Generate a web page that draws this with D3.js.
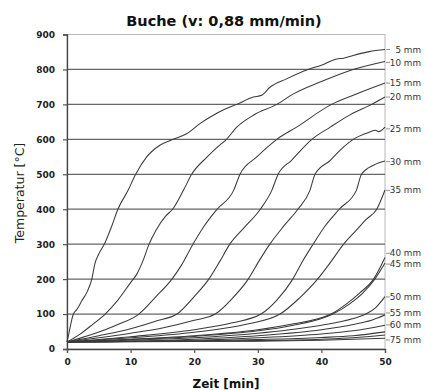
<!DOCTYPE html>
<html>
<head>
<meta charset="utf-8">
<script src="https://cdn.jsdelivr.net/npm/d3@7"></script>
<style>
  html, body { margin: 0; padding: 0; background: #fff; }
  svg { display: block; }
</style>
</head>
<body>
<svg id="chart" width="425" height="390"></svg>
<script>
// ---- data (time [min], temperature [°C]) ----
const title = "Buche (v: 0,88 mm/min)";
const xTicks = [0, 10, 20, 30, 40, 50];
const yTicks = [0, 100, 200, 300, 400, 500, 600, 700, 800, 900];

const s5  = [[0,20],[0.3,45],[0.7,80],[1,100],[1.5,112],[2.4,140],[3.2,165],[3.9,200],[4.4,245],[5,272],[6,305],[7,350],[8,400],[9.6,454],[10.8,500],[12.5,549],[14.6,583],[16.7,600],[18.8,616],[20.9,645],[23,669],[24.8,686],[26.7,700],[29.3,721],[30.6,726],[31.9,749],[34.5,773],[37.9,800],[40,812],[42.4,830],[43.5,832],[45,840],[47.5,851],[50,857]];
const s10 = [[0,20],[2,42],[4,70],[6,100],[8,140],[10,190],[11,215],[12,255],[12.9,300],[14,340],[15.5,380],[16.6,400],[18.3,454],[19.6,500],[22,549],[24.1,585],[24.8,595],[26.7,635],[29.3,669],[33,700],[35.6,730],[39.8,764],[45,800],[50,823]];
const s15 = [[0,20],[4,42],[8,70],[11.3,100],[14,150],[16.5,200],[18,240],[19.8,300],[21.5,350],[23.6,400],[26.2,454],[27.2,500],[29.8,549],[33,600],[36.1,635],[41.6,700],[45,726],[50,761]];
const s20 = [[0,20],[5,38],[10,58],[14,80],[17.3,100],[20,150],[22.3,200],[24,250],[25.6,300],[28,350],[30.4,400],[32.2,454],[33.2,500],[35.3,540],[38.5,600],[41.4,635],[44.5,670],[47.9,700],[50,721]];
const s25 = [[0,20],[5,32],[10,45],[15,60],[20,82],[23.3,100],[26,145],[28.5,200],[30.3,255],[31.9,300],[34,350],[36.3,400],[38.2,454],[39,500],[41.4,540],[43,570],[45,600],[47.6,621],[48.5,626],[49,622],[50,635]];
const s30 = [[0,20],[10,35],[20,55],[26,75],[30.5,100],[33,140],[35.5,200],[37,250],[38.7,300],[40.5,350],[42.8,400],[45.5,454],[46.3,500],[48.2,526],[50,538]];
const s35 = [[0,20],[10,32],[20,48],[28,70],[33.5,100],[36.5,145],[39.4,200],[41.5,250],[43.5,300],[45.5,340],[47,370],[48.7,400],[50,455]];
const s40 = [[0,20],[10,28],[20,38],[30,55],[35,70],[41.5,100],[44,130],[46,160],[48.2,200],[50,262]];
const s45 = [[0,20],[10,27],[20,36],[30,52],[35,66],[41.8,100],[44.5,130],[46.5,160],[48.4,200],[50,246]];
const s50 = [[0,20],[10,25],[20,32],[30,45],[35,55],[40,68],[45,87],[47,100],[48.5,118],[50,150]];
const s55 = [[0,20],[10,22],[20,28],[30,38],[40,55],[45,70],[48,83],[50,97]];
const s60 = [[0,20],[20,25],[30,32],[40,43],[45,52],[50,68]];
const s65 = [[0,20],[20,23],[30,27],[40,33],[45,38],[50,49]];
const s70 = [[0,20],[30,24],[40,28],[45,32],[50,40]];
const s75 = [[0,20],[30,22],[40,25],[50,31]];

const series = [s5, s10, s15, s20, s25, s30, s35, s40, s45, s50, s55, s60, s65, s70, s75];

const labelNames = ["5 mm","10 mm","15 mm","20 mm","25 mm","30 mm","35 mm","40 mm","45 mm","50 mm","55 mm","60 mm","75 mm"];
const labelTemps = [857, 820, 761, 721, 630, 536, 454, 274, 243, 149, 103, 69, 26];

// ---- layout ----
const svg = d3.select("#chart");
const L = 67, R = 385, T = 34.5, B = 349;
const x = d3.scaleLinear().domain([0, 50]).range([L, R]);
const y = d3.scaleLinear().domain([0, 900]).range([B, T]);
const font = "'DejaVu Sans', Verdana, sans-serif";

// frame (top/right light)
svg.append("rect").attr("x", L).attr("y", T).attr("width", R - L).attr("height", B - T)
  .attr("fill", "none").attr("stroke", "#b8b8b8").attr("stroke-width", 1);

// gridlines
svg.append("g").selectAll("line").data(yTicks.filter(d => d > 0 && d < 900)).join("line")
  .attr("x1", L).attr("x2", R).attr("y1", d => y(d)).attr("y2", d => y(d))
  .attr("stroke", "#666").attr("stroke-width", 1.3);

// y axis
const yAxis = svg.append("g").attr("transform", `translate(${L},0)`)
  .call(d3.axisLeft(y).tickValues(yTicks).tickSize(4).tickPadding(8));
yAxis.select(".domain").attr("stroke", "#444").attr("stroke-width", 1.3);
yAxis.selectAll(".tick line").attr("stroke", "#555").attr("stroke-width", 1.2);
yAxis.selectAll("text").attr("font-family", font).attr("font-weight", "bold")
  .attr("font-size", 9).attr("fill", "#222");

// x axis
const xAxis = svg.append("g").attr("transform", `translate(0,${B})`)
  .call(d3.axisBottom(x).tickValues(xTicks).tickSize(4).tickPadding(6));
xAxis.select(".domain").attr("stroke", "#444").attr("stroke-width", 1.3);
xAxis.selectAll(".tick line").attr("stroke", "#555").attr("stroke-width", 1.2);
xAxis.selectAll("text").attr("font-family", font).attr("font-weight", "bold")
  .attr("font-size", 9).attr("fill", "#222");

// curves
const line = d3.line().x(d => x(d[0])).y(d => y(d[1])).curve(d3.curveMonotoneX);
svg.append("g").selectAll("path").data(series).join("path")
  .attr("d", line).attr("fill", "none").attr("stroke", "#3a3a3a").attr("stroke-width", 1.05);

// right labels
const lab = svg.append("g");
lab.selectAll("line").data(labelTemps).join("line")
  .attr("x1", R + 1).attr("x2", R + 5).attr("y1", d => y(d)).attr("y2", d => y(d))
  .attr("stroke", "#777").attr("stroke-width", 0.8);
lab.selectAll("text").data(labelNames).join("text")
  .attr("x", 421).attr("y", (d, i) => y(labelTemps[i]))
  .attr("dy", "0.35em").attr("text-anchor", "end")
  .attr("font-family", font).attr("font-size", 8.8).attr("fill", "#333")
  .text(d => d);

// title
svg.append("text").attr("x", 224).attr("y", 26).attr("text-anchor", "middle")
  .attr("font-family", font).attr("font-weight", "bold").attr("font-size", 14.5)
  .attr("fill", "#111").text(title);

// axis titles
svg.append("text").attr("x", 226).attr("y", 388).attr("text-anchor", "middle")
  .attr("font-family", font).attr("font-weight", "bold").attr("font-size", 12)
  .attr("fill", "#111").text("Zeit [min]");
svg.append("text").attr("transform", "translate(24,193) rotate(-90)").attr("text-anchor", "middle")
  .attr("font-family", font).attr("font-size", 12.5)
  .attr("fill", "#222").text("Temperatur [°C]");
</script>
</body>
</html>
